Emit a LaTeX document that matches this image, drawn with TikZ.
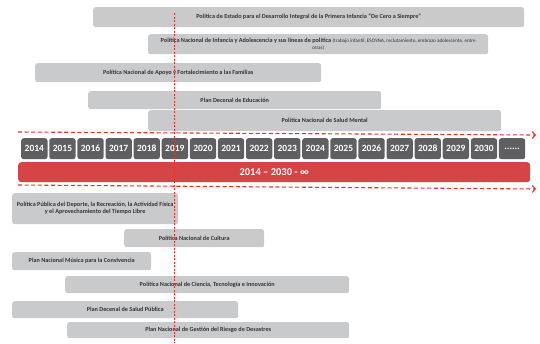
\documentclass[tikz,border=0pt]{standalone}
\usepackage{fontspec}
\setmainfont{Carlito}
\usepackage{tikz}
\usetikzlibrary{arrows.meta}
\definecolor{PolGray}{HTML}{C9CACC}
\definecolor{PolText}{HTML}{333333}
\definecolor{YearGray}{HTML}{5F5F61}
\definecolor{SpanRed}{HTML}{D64545}
\definecolor{CutRed}{HTML}{E8332B}

\begin{document}
\begin{tikzpicture}[
        x=1pt,y=-1pt,
        bar/.style={fill=PolGray,rounded corners=2.5pt,anchor=north west,inner sep=0pt,align=center,text=PolText,font=\fontsize{6.2}{6.9}\selectfont\bfseries},
        yearbox/.style={fill=YearGray,rounded corners=2.5pt,anchor=north west,inner sep=0pt,minimum width=26.3pt,minimum height=21pt,text=white,font=\fontsize{9.5}{10}\selectfont\bfseries},
        span/.style={fill=SpanRed,rounded corners=3pt,anchor=north west,inner sep=0pt,text=white,font=\fontsize{10.5}{11}\selectfont\bfseries},
        cut/.style={CutRed,line width=1.1pt,dash pattern=on 4pt off 2.6pt,-{Straight Barb[length=3pt,width=7pt]}},
        now/.style={CutRed,line width=0.6pt,dash pattern=on 2pt off 1.5pt}
      ]
        \useasboundingbox (0,0) rectangle (540,343);
        % politicas arriba
        \node[bar,minimum width=431pt,minimum height=20pt] (estado) at (93,7) {Política de Estado para el Desarrollo Integral de la Primera Infancia “De Cero a Siempre”};
        \node[bar,minimum width=340pt,minimum height=20pt] (infancia) at (148,34) {Política Nacional de Infancia y Adolescencia y sus líneas de política {\mdseries\fontsize{5.1}{5.6}\selectfont(trabajo infantil, ESCNNA, reclutamiento, embrazo adolescente, entre}\\{\mdseries\fontsize{5.1}{5.6}\selectfont otras)}};
        \node[bar,minimum width=286pt,minimum height=19pt] (familias) at (35,63) {Política Nacional de Apoyo y Fortalecimiento a las Familias};
        \node[bar,minimum width=293pt,minimum height=18pt] (educacion) at (88,91) {Plan Decenal de Educación};
        \node[bar,minimum width=353pt,minimum height=21pt] (saludmental) at (148,110) {Política Nacional de Salud Mental};

        % linea de tiempo
        \foreach \i in {0,...,16}{
          \pgfmathtruncatemacro\yr{2014+\i}
          \node[yearbox] (y\yr) at (21+\i*28.1,138) {\yr};
        }
        \node[yearbox] (ymore) at (21+17*28.1,138) {......};
        \node[span,minimum width=512pt,minimum height=20pt] (periodo) at (18,162) {2014 – 2030 - ∞};

        % politicas abajo
        \node[bar,minimum width=166pt,minimum height=31pt] (deporte) at (12,193) {Política Pública del Deporte, la Recreación, la Actividad Física\\y el Aprovechamiento del Tiempo Libre};
        \node[bar,minimum width=140pt,minimum height=18pt] (cultura) at (124,229) {Política Nacional de Cultura};
        \node[bar,minimum width=139pt,minimum height=18pt] (musica) at (12,252) {Plan Nacional Música para la Convivencia};
        \node[bar,minimum width=284pt,minimum height=17pt] (ciencia) at (65,276) {Política Nacional de Ciencia, Tecnología e Innovación};
        \node[bar,minimum width=226pt,minimum height=17pt] (saludpublica) at (12,301) {Plan Decenal de Salud Pública};
        \node[bar,minimum width=282pt,minimum height=16pt] (riesgo) at (67,322) {Plan Nacional de Gestión del Riesgo de Desastres};

        % flechas y corte
        \coordinate (topL) at (18,132);
        \coordinate (topR) at (536,135);
        \coordinate (botL) at (18,185);
        \coordinate (botR) at (536,189);
        \coordinate (nowT) at (174,13);
        \coordinate (nowB) at (174,343);
        \draw[cut] (topL) -- (topR);
        \draw[cut] (botL) -- (botR);
        \draw[now] (nowT) -- (nowB);
      \end{tikzpicture}
\end{document}
